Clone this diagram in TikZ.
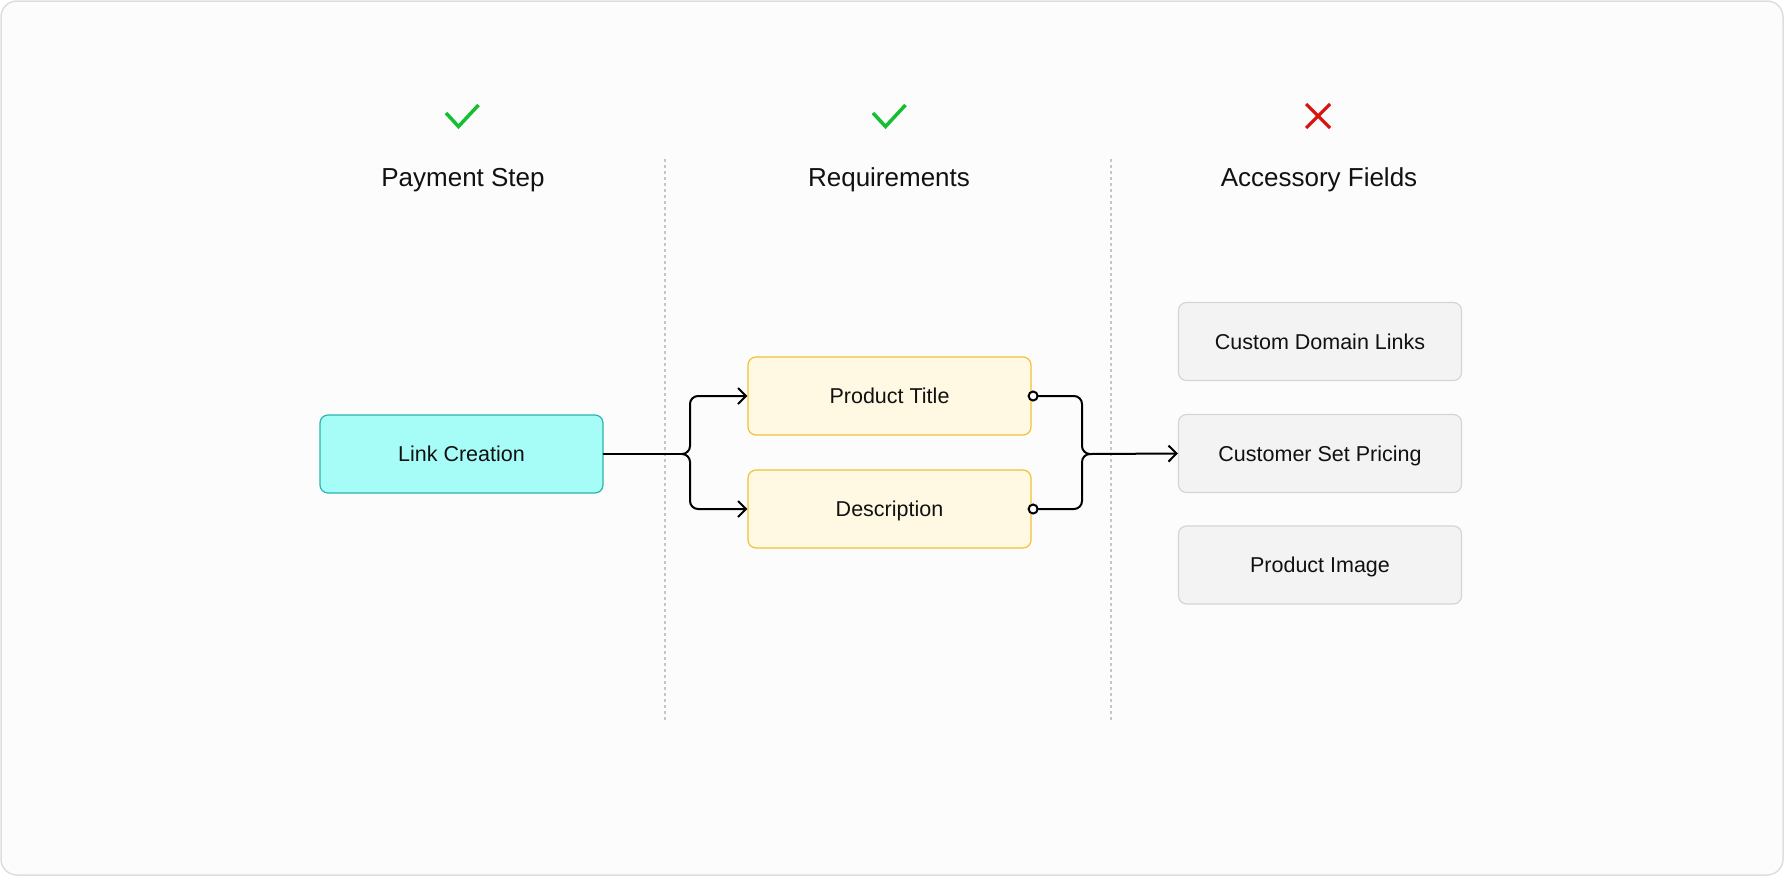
\documentclass[tikz,border=0pt]{standalone}
\usepackage{fontspec}
\setmainfont{Liberation Sans}
\usetikzlibrary{arrows.meta}
\definecolor{framebd}{HTML}{DEDEDE}
\definecolor{framebg}{HTML}{FCFCFC}
\definecolor{cyanfill}{HTML}{A6FCF6}
\definecolor{cyanbd}{HTML}{2BB5AE}
\definecolor{yelfill}{HTML}{FFF9E4}
\definecolor{yelbd}{HTML}{F1C232}
\definecolor{grayfill}{HTML}{F4F3F4}
\definecolor{graybd}{HTML}{D5D5D5}
\definecolor{txt}{HTML}{111111}
\definecolor{okgreen}{HTML}{14BF32}
\definecolor{nored}{HTML}{D8140E}
\definecolor{divider}{HTML}{C6C6C6}
\tikzset{
  box/.style={rounded corners=8pt, line width=1.2pt, minimum width=283pt, minimum height=78pt,
    inner sep=0pt, text=txt, font=\fontsize{21.5}{24}\selectfont, text height=15.4pt, text depth=0pt},
  cyanbox/.style={box, fill=cyanfill, draw=cyanbd},
  yelbox/.style={box, fill=yelfill, draw=yelbd},
  graybox/.style={box, fill=grayfill, draw=graybd},
  header/.style={anchor=base, text=txt, font=\fontsize{26}{30}\selectfont, inner sep=0pt},
  conn/.style={line width=2pt, draw=black, line join=round, line cap=round},
  arr/.style={-{Straight Barb[length=8pt,width=16pt]}},
  dot/.style={circle, draw=black, fill=white, line width=2pt, minimum size=9pt, inner sep=0pt},
  divline/.style={draw=divider, line width=1.5pt, dash pattern=on 3pt off 3pt},
  okmark/.style={draw=okgreen, line width=3.5pt, line cap=butt, line join=miter},
  nomark/.style={draw=nored, line width=3.2pt},
}
\begin{document}
\begin{tikzpicture}[x=1pt,y=-1pt]
\useasboundingbox (0,0) rectangle (1784,876);
\draw[draw=framebd, fill=framebg, line width=1.5pt, rounded corners=16pt] (1,1) rectangle (1783,875);

% dividers
\draw[divline] (665,159) -- (665,721);
\draw[divline] (1111,159) -- (1111,721);

% status marks
\draw[okmark] (446,113) -- (458.5,126.5) -- (478.5,105);
\draw[okmark] (873,113) -- (885.5,126.5) -- (905.5,105);
\draw[nomark] (1306,104) -- (1330,128) (1330,104) -- (1306,128);

% headers
\node[header] (h1) at (463,186) {Payment Step};
\node[header] (h2) at (889,186) {Requirements};
\node[header] (h3) at (1319,186) {Accessory Fields};

% boxes
\node[cyanbox] (lc) at (461.5,454) {Link Creation};
\node[yelbox] (pt) at (889.5,396) {Product Title};
\node[yelbox] (de) at (889.5,509) {Description};
\node[graybox] (cdl) at (1320,341.5) {Custom Domain Links};
\node[graybox] (csp) at (1320,453.5) {Customer Set Pricing};
\node[graybox] (pim) at (1320,565) {Product Image};

% left brace
\coordinate (s1) at (682,454);
\draw[conn] (lc.east) -- (s1);
\draw[conn, arr, rounded corners=8pt] (s1) -- ++(8,0) |- (pt.west);
\draw[conn, arr, rounded corners=8pt] (s1) -- ++(8,0) |- (de.west);

% right brace
\coordinate (s2) at (1090,454);
\node[dot] (d1) at ([xshift=1.5pt]pt.east) {};
\node[dot] (d2) at ([xshift=1.5pt]de.east) {};
\draw[conn, rounded corners=8pt] (d1.east) -| ([xshift=-8pt]s2) -- (s2);
\draw[conn, rounded corners=8pt] (d2.east) -| ([xshift=-8pt]s2) -- (s2);
\draw[conn, arr] (s2) -- (csp.west);
\end{tikzpicture}
\end{document}
